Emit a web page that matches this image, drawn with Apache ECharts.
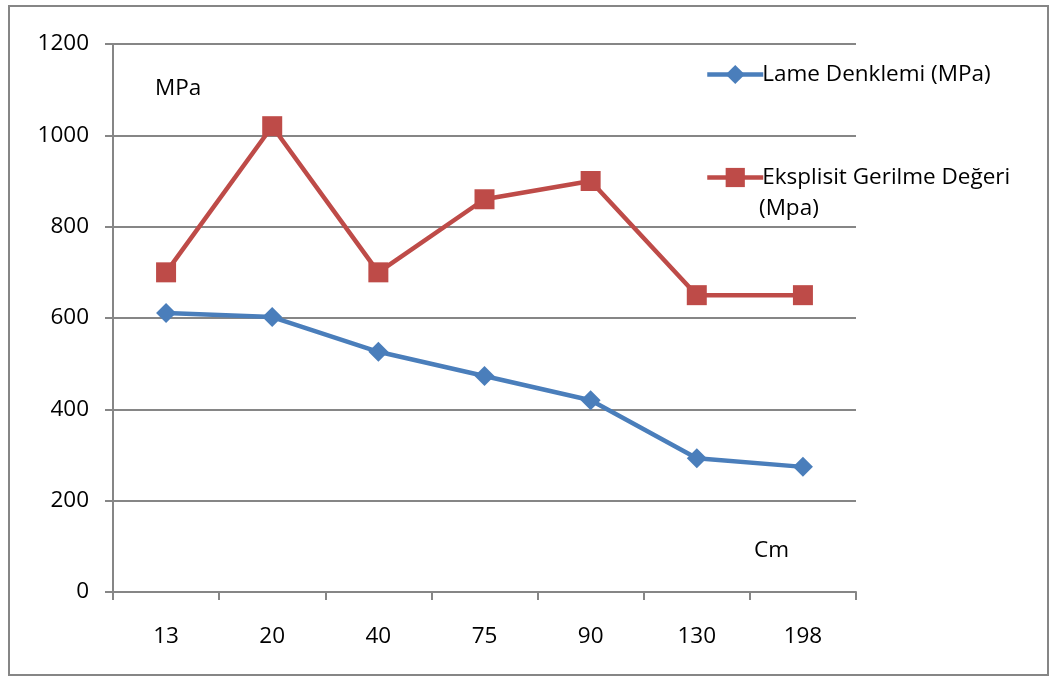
<!DOCTYPE html>
<html>
<head>
<meta charset="utf-8">
<script src="https://cdn.jsdelivr.net/npm/echarts@6/dist/echarts.min.js"></script>
<style>
html, body { margin: 0; padding: 0; background: #fff; }
#main { width: 1054px; height: 678px; }
</style>
</head>
<body>
<div id="main"></div>
<script>
// veriler
var categories = ['13', '20', '40', '75', '90', '130', '198'];
var lame       = [611, 602, 526, 473, 420, 293, 274];
var eksplisit  = [700, 1020, 700, 860, 900, 650, 650];
var yTicks     = [0, 200, 400, 600, 800, 1000, 1200];

var font  = '"Open Sans", "Liberation Sans", sans-serif';
var fs    = 22.5;
var grey  = '#868686';
var blue  = '#4A7EBB';
var red   = '#BE4B48';

var chart = echarts.init(document.getElementById('main'));

var legendText = { fontFamily: font, fontSize: fs, color: '#000', padding: [0, 0, 0, -6] };

var option = {
    animation: false,
    backgroundColor: '#fff',
    grid: {
        left: 113,
        right: 1054 - 856,
        top: 44,
        bottom: 678 - 592
    },
    graphic: [
        {
            type: 'rect',
            shape: { x: 9, y: 6, width: 1039, height: 669 },
            style: { fill: 'none', stroke: grey, lineWidth: 2 }
        },
        {
            type: 'text',
            left: 155, top: 77,
            style: { text: 'MPa', font: fs + 'px ' + font, fill: '#000' }
        },
        {
            type: 'text',
            left: 754, top: 539,
            style: { text: 'Cm', font: fs + 'px ' + font, fill: '#000' }
        },
        {
            type: 'text',
            left: 759, top: 197,
            style: { text: '(Mpa)', font: fs + 'px ' + font, fill: '#000' }
        }
    ],
    legend: [
        {
            data: ['Lame Denklemi (MPa)'],
            left: 700, top: 58,
            itemWidth: 56, itemHeight: 24,
            lineStyle: { width: 4.5 },
            textStyle: legendText
        },
        {
            data: ['Eksplisit Gerilme Değeri (Mpa)'],
            left: 700, top: 161,
            itemWidth: 56, itemHeight: 24,
            lineStyle: { width: 4.5 },
            formatter: function () { return 'Eksplisit Gerilme Değeri'; },
            textStyle: legendText
        }
    ],
    xAxis: {
        type: 'category',
        data: categories,
        boundaryGap: true,
        axisLine: { lineStyle: { color: grey, width: 2 } },
        axisTick: { show: true, length: 8, lineStyle: { color: grey, width: 2 } },
        axisLabel: { margin: 33, fontFamily: font, fontSize: fs, color: '#000' }
    },
    yAxis: {
        type: 'value',
        min: yTicks[0],
        max: yTicks[yTicks.length - 1],
        interval: 200,
        axisLine: { show: true, lineStyle: { color: grey, width: 2 } },
        axisTick: { show: true, length: 8, lineStyle: { color: grey, width: 2 } },
        splitLine: { lineStyle: { color: grey, width: 2 } },
        axisLabel: {
            margin: 24, fontFamily: font, fontSize: fs, color: '#000',
            formatter: function (v) { return String(v); }
        }
    },
    series: [
        {
            name: 'Lame Denklemi (MPa)',
            type: 'line',
            data: lame,
            symbol: 'diamond',
            symbolSize: 20,
            lineStyle: { color: blue, width: 4.5 },
            itemStyle: { color: blue }
        },
        {
            name: 'Eksplisit Gerilme Değeri (Mpa)',
            type: 'line',
            data: eksplisit,
            symbol: 'rect',
            symbolSize: 20,
            lineStyle: { color: red, width: 4.5 },
            itemStyle: { color: red }
        }
    ]
};

chart.setOption(option, true);
</script>
</body>
</html>
